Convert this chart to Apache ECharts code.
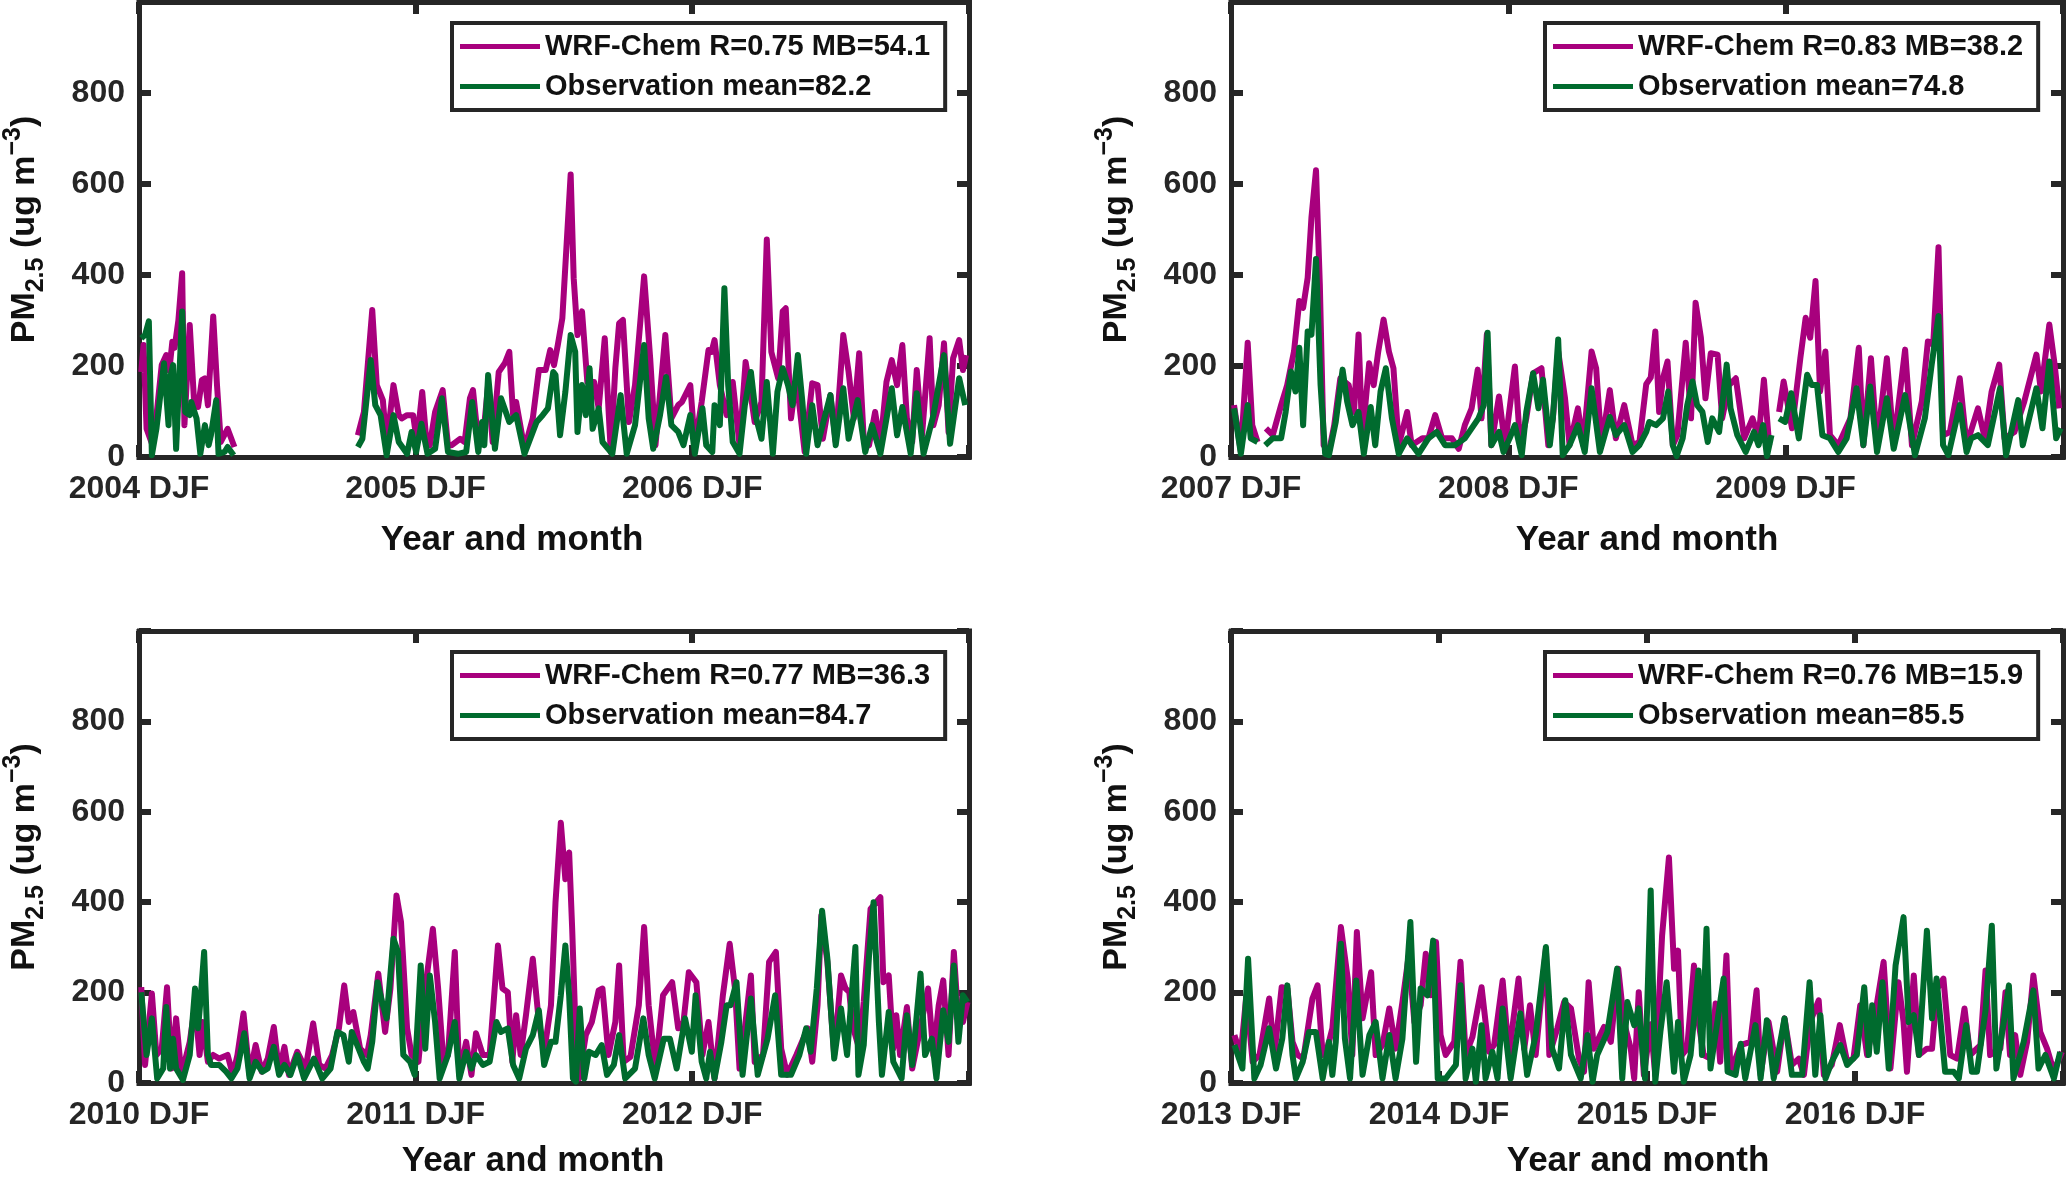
<!DOCTYPE html>
<html>
<head>
<meta charset="utf-8">
<title>PM2.5 WRF-Chem vs observation</title>
<script src="https://cdn.jsdelivr.net/npm/echarts@6/dist/echarts.min.js"></script>
<style>
  html, body { margin: 0; padding: 0; background: #fff; }
  #main { width: 2067px; height: 1180px; }
</style>
</head>
<body>
<div id="main"></div>
<script>
// values: [day since start of panel, PM2.5]
// null breaks the line where there is no data
var tlWrf = [[3,187],[6,246],[10,62],[17,30],[23,90],[30,202],[36,224],[40,190],[44,253],[47,240],[52,300],[57,404],[60,70],[67,290],[73,114],[78,110],[83,169],[87,173],[91,114],[98,309],[103,158],[108,33],[117,62],[126,22],[200,null],
  [289,48],[297,99],[308,323],[314,158],[322,125],[327,26],[336,158],[343,92],[347,85],[354,92],[362,92],[367,33],[374,143],[380,26],[384,26],[391,99],[401,147],[408,26],[413,26],[424,40],[430,33],[437,129],[441,147],[448,33],[455,55],[461,158],[467,33],[475,187],[483,206],[489,231],[494,92],[498,121],[509,18],[520,85],[528,191],[537,191],[543,235],[548,202],[553,246],
  [559,305],[570,621],[574,393],[579,268],[585,320],[592,165],[601,165],[607,107],[615,261],[623,11],[629,195],[634,294],[639,301],[647,77],[655,158],[667,397],[675,217],[682,26],[695,268],[703,85],[712,114],[717,121],[728,158],[734,26],[743,121],[752,235],[756,231],[760,257],[767,158],[776,92],[784,165],[793,26],[801,209],[806,158],[813,77],[822,121],[829,478],[835,231],[844,173],[850,320],[854,327],[861,85],[868,173],[879,11],[889,162],[896,158],[903,40],[913,136],[920,33],[930,268],[937,187],[944,85],[951,228],[957,40],[964,26],[972,99],[979,26],[987,165],[994,213],[1001,158],[1008,246],[1014,85],[1021,33],[1027,191],[1034,48],[1044,261],[1049,70],[1056,114],[1063,250],[1069,55],[1075,217],[1083,257],[1088,191],[1092,224]];
var tlObs = [[3,261],[8,268],[13,298],[17,4],[23,62],[33,206],[39,70],[41,173],[45,202],[49,18],[57,320],[61,99],[67,92],[69,121],[76,85],[81,7],[87,70],[92,26],[95,48],[102,125],[105,7],[113,11],[117,22],[125,4],[200,null],
  [289,22],[295,40],[306,213],[312,114],[319,92],[327,4],[336,92],[343,33],[354,7],[360,55],[366,11],[373,73],[381,7],[391,18],[400,129],[408,11],[421,7],[432,11],[440,121],[448,11],[453,77],[456,26],[461,180],[470,18],[478,129],[489,77],[498,92],[509,7],[525,77],[533,92],[540,107],[547,187],[550,180],[556,48],[563,143],[570,268],[576,231],[579,55],[585,158],[590,92],[595,195],[599,62],[607,107],[612,33],[625,7],[636,136],[644,7],[655,70],[667,246],[673,85],[679,18],[688,92],[696,176],[703,70],[712,55],[719,26],[728,92],[734,7],[744,107],[749,26],[757,11],[760,114],[767,70],[773,371],[778,158],[784,33],[793,7],[800,114],[808,187],[815,85],[822,40],[829,165],[837,7],[843,143],[850,195],[857,158],[863,114],[870,224],[876,121],[881,7],[889,114],[896,26],[905,85],[913,136],[920,26],[930,151],[937,40],[949,125],[959,11],[968,70],[979,7],[994,151],[1001,48],[1008,110],[1019,7],[1027,140],[1036,7],[1049,92],[1063,224],[1071,29],[1083,173],[1091,114]];

var trWrf = [[4,114],[13,11],[22,251],[28,70],[35,33],[40,null],[46,63],[55,48],[66,114],[74,158],[83,232],[90,343],[95,328],[101,394],[106,527],[112,630],[117,380],[122,26],[129,11],[136,70],[144,173],[155,158],[162,99],[168,269],[173,41],[182,206],[188,158],[194,232],[201,302],[208,232],[214,195],[221,26],[232,99],[238,26],[252,41],[260,41],[269,92],[278,41],[291,41],[300,18],[308,70],[317,107],[325,192],[330,85],[337,269],[343,26],[353,133],[361,26],[374,199],[381,26],[389,85],[398,184],[409,195],[418,26],[424,85],[431,232],[440,129],[446,26],[457,107],[464,26],[475,232],[481,195],[488,26],[499,147],[507,41],[518,114],[529,26],[538,33],[547,160],[553,175],[559,276],[564,99],[569,173],[575,210],[582,26],[588,48],[599,251],[606,85],[612,339],[619,262],[625,129],[632,228],[641,225],[647,85],[656,158],[665,173],[676,41],[687,85],[695,41],[702,170],[709,26],[715,null],
  [722,99],[728,166],[739,63],[750,217],[757,306],[763,262],[770,387],[776,144],[783,232],[789,48],[800,26],[816,85],[827,240],[833,26],[843,217],[851,26],[864,217],[873,26],[888,236],[897,26],[910,122],[918,254],[925,247],[932,461],[938,48],[947,55],[960,173],[969,26],[984,107],[993,41],[1002,144],[1012,203],[1019,41],[1032,55],[1045,122],[1061,225],[1067,144],[1078,291],[1085,203],[1091,107]];
var trObs = [[4,107],[13,7],[22,114],[26,41],[35,33],[40,null],[45,26],[55,41],[66,41],[72,99],[79,188],[85,144],[90,240],[95,70],[101,276],[106,269],[112,435],[118,158],[124,7],[129,4],[138,77],[147,192],[153,122],[160,70],[168,99],[175,7],[184,110],[190,26],[197,144],[204,195],[212,85],[221,7],[232,41],[247,7],[260,41],[271,55],[282,26],[295,26],[308,41],[326,85],[333,114],[338,273],[343,26],[353,55],[359,11],[367,41],[374,70],[383,4],[389,99],[398,184],[405,107],[411,170],[420,26],[424,85],[431,258],[437,4],[446,26],[457,70],[466,11],[475,151],[486,11],[499,88],[507,48],[518,70],[529,11],[538,26],[547,55],[551,77],[560,70],[569,85],[576,144],[582,26],[587,2],[595,41],[601,114],[608,166],[614,114],[621,99],[628,33],[634,85],[643,55],[653,203],[658,107],[667,48],[678,11],[689,55],[695,26],[701,70],[706,2],[712,48],[715,null],
  [722,85],[730,77],[738,140],[748,41],[759,181],[765,158],[772,158],[779,48],[789,41],[800,11],[811,41],[824,151],[833,26],[842,155],[851,11],[864,129],[873,18],[888,136],[901,4],[914,85],[923,203],[932,310],[938,26],[945,4],[960,114],[969,11],[975,41],[984,48],[997,26],[1013,151],[1021,4],[1037,125],[1043,26],[1061,151],[1069,63],[1078,210],[1087,41],[1093,63]];

var blWrf = [[3,212],[8,40],[17,198],[23,62],[30,76],[37,212],[43,32],[49,143],[56,18],[67,91],[74,172],[80,62],[84,135],[91,47],[98,62],[106,54],[117,62],[124,18],[130,62],[138,154],[146,18],[154,84],[162,25],[170,54],[178,124],[185,25],[192,80],[198,18],[209,69],[220,32],[230,132],[238,40],[246,32],[255,62],[264,121],[271,216],[277,135],[283,157],[292,76],[301,62],[306,106],[316,242],[325,113],[332,209],[340,415],[346,356],[354,121],[360,62],[369,47],[378,209],[388,341],[395,209],[402,47],[408,62],[417,290],[423,18],[432,91],[439,18],[445,110],[454,62],[463,62],[474,304],[480,209],[487,201],[493,47],[498,150],[504,62],[511,150],[520,275],[528,135],[535,69],[544,172],[550,400],[557,576],[563,451],[568,510],[572,341],[577,91],[581,10],[590,106],[598,135],[607,205],[612,209],[620,62],[629,135],[634,260],[640,47],[649,58],[660,172],[667,345],[673,172],[682,32],[692,194],[704,223],[712,121],[719,135],[726,245],[736,223],[744,62],[752,135],[760,10],[771,194],[780,308],[787,209],[793,32],[800,121],[808,238],[813,47],[824,62],[832,268],[841,290],[848,76],[856,18],[868,62],[883,121],[889,47],[896,172],[901,370],[909,268],[918,62],[927,238],[933,209],[938,201],[942,128],[951,76],[957,179],[966,385],[979,411],[983,223],[990,238],[996,76],[1000,150],[1005,62],[1014,168],[1021,32],[1029,98],[1042,209],[1049,62],[1056,172],[1062,227],[1069,62],[1076,290],[1082,135],[1088,135],[1094,179]];
var blObs = [[3,201],[10,62],[17,143],[24,10],[32,32],[36,168],[41,32],[45,98],[49,32],[58,7],[67,62],[74,209],[78,121],[81,179],[86,290],[91,62],[95,40],[106,40],[115,25],[122,10],[130,32],[139,110],[146,10],[154,47],[163,25],[170,32],[178,80],[185,18],[192,40],[200,18],[209,62],[218,10],[231,54],[242,10],[253,32],[262,113],[270,106],[277,47],[281,113],[290,76],[297,47],[302,32],[308,91],[315,223],[321,179],[327,143],[336,319],[342,290],[349,62],[358,47],[364,18],[372,260],[378,76],[384,238],[391,135],[397,10],[408,62],[417,135],[423,10],[432,69],[439,32],[445,62],[454,40],[463,47],[472,135],[478,113],[487,121],[494,40],[502,10],[511,76],[520,106],[528,161],[535,40],[544,91],[550,91],[557,194],[563,304],[568,194],[573,10],[577,3],[582,165],[588,10],[594,69],[603,62],[611,84],[618,18],[627,40],[634,106],[642,10],[655,32],[666,143],[673,62],[681,10],[693,98],[701,98],[710,32],[721,143],[730,69],[735,194],[743,47],[749,10],[754,69],[760,10],[769,91],[776,172],[781,172],[789,223],[797,18],[808,187],[817,18],[830,98],[840,194],[848,18],[861,18],[872,62],[881,121],[887,69],[895,209],[902,381],[909,275],[918,54],[927,165],[935,62],[946,301],[950,18],[957,84],[964,282],[970,400],[977,135],[981,18],[990,157],[996,47],[1007,10],[1014,150],[1021,40],[1032,242],[1038,62],[1047,98],[1053,10],[1062,161],[1069,91],[1076,260],[1082,91],[1088,194],[1094,179]];

var brWrf = [[6,106],[17,62],[27,194],[38,47],[50,62],[55,98],[67,187],[76,62],[89,212],[99,209],[108,91],[117,62],[127,54],[143,187],[152,216],[161,62],[169,76],[178,121],[193,345],[205,231],[213,62],[221,334],[231,143],[246,245],[254,62],[266,84],[278,165],[289,76],[301,179],[312,282],[322,135],[333,172],[342,286],[351,194],[360,312],[368,106],[377,62],[392,91],[403,268],[412,62],[424,102],[440,212],[453,69],[462,84],[477,227],[488,62],[505,231],[515,76],[525,172],[535,62],[553,297],[559,62],[573,121],[585,179],[597,165],[611,54],[620,25],[628,223],[637,76],[655,124],[667,91],[680,253],[690,135],[702,76],[708,10],[716,201],[725,18],[737,130],[745,18],[757,326],[769,499],[778,253],[785,293],[792,62],[801,76],[813,260],[821,135],[830,62],[842,54],[851,176],[859,47],[870,282],[877,25],[895,84],[912,91],[923,205],[930,18],[944,135],[959,25],[972,143],[985,40],[997,54],[1006,18],[1017,135],[1032,183],[1041,18],[1055,40],[1069,128],[1082,47],[1093,54],[1105,172],[1117,62],[1129,135],[1146,268],[1158,32],[1172,223],[1181,135],[1187,25],[1199,238],[1208,62],[1222,76],[1231,76],[1240,209],[1251,231],[1263,62],[1275,54],[1288,165],[1298,62],[1316,84],[1325,249],[1333,62],[1351,76],[1360,201],[1368,62],[1377,106],[1386,18],[1398,91],[1409,238],[1421,113],[1433,76],[1445,25],[1459,69]];
var brObs = [[6,84],[20,32],[30,275],[41,10],[52,40],[67,121],[79,32],[90,98],[99,216],[108,62],[114,10],[126,47],[137,113],[149,113],[161,10],[172,91],[178,18],[184,91],[193,308],[200,98],[209,10],[220,227],[231,18],[243,106],[254,135],[266,10],[278,106],[289,10],[301,98],[315,356],[325,47],[333,209],[345,194],[355,315],[363,10],[377,10],[395,40],[403,216],[412,10],[424,76],[430,3],[440,128],[447,10],[459,69],[468,10],[477,165],[491,10],[508,154],[520,18],[535,106],[553,301],[564,76],[576,32],[587,183],[597,62],[614,10],[626,106],[635,3],[643,62],[661,113],[678,253],[687,10],[696,179],[708,128],[716,165],[727,10],[737,426],[745,3],[754,113],[765,223],[778,25],[785,135],[795,3],[807,62],[821,249],[827,62],[835,341],[842,32],[854,135],[865,231],[872,25],[886,18],[895,87],[903,10],[921,128],[930,10],[941,139],[953,10],[972,143],[985,18],[1003,18],[1016,223],[1026,18],[1035,150],[1044,10],[1055,47],[1070,84],[1082,40],[1099,62],[1112,212],[1120,62],[1126,172],[1134,69],[1144,223],[1155,32],[1167,260],[1181,367],[1190,135],[1199,150],[1208,62],[1222,337],[1231,143],[1239,231],[1246,135],[1254,25],[1269,25],[1278,10],[1291,128],[1301,25],[1310,25],[1325,161],[1336,348],[1344,32],[1357,135],[1366,216],[1374,10],[1392,91],[1409,205],[1418,32],[1430,62],[1445,10],[1456,69]];

var tlNames = ['WRF-Chem R=0.75 MB=54.1', 'Observation mean=82.2'];
var trNames = ['WRF-Chem R=0.83 MB=38.2', 'Observation mean=74.8'];
var blNames = ['WRF-Chem R=0.77 MB=36.3', 'Observation mean=84.7'];
var brNames = ['WRF-Chem R=0.76 MB=15.9', 'Observation mean=85.5'];

var tlTicks = ['2004 DJF', '2005 DJF', '2006 DJF'];
var trTicks = ['2007 DJF', '2008 DJF', '2009 DJF'];
var blTicks = ['2010 DJF', '2011 DJF', '2012 DJF'];
var brTicks = ['2013 DJF', '2014 DJF', '2015 DJF', '2016 DJF'];
var yTicks = [0, 200, 400, 600, 800];

var ink = '#262626';
var wrfColor = '#A8007D';
var obsColor = '#006B2E';
var font = '"Liberation Sans", Arial, Helvetica, sans-serif';
var yearLen = 365.25;

var panels = [
  { wrf: tlWrf, obs: tlObs, names: tlNames, ticks: tlTicks, years: 3, left: 137, top: 2, legLeft: 452, legTop: 23, nameGap: 66, namePad: 84 },
  { wrf: trWrf, obs: trObs, names: trNames, ticks: trTicks, years: 3, left: 1231, top: 2, legLeft: 1545, legTop: 23, nameGap: 66, namePad: 0 },
  { wrf: blWrf, obs: blObs, names: blNames, ticks: blTicks, years: 3, left: 137, top: 631, legLeft: 452, legTop: 652, nameGap: 61, namePad: 42 },
  { wrf: brWrf, obs: brObs, names: brNames, ticks: brTicks, years: 4, left: 1231, top: 631, legLeft: 1545, legTop: 652, nameGap: 61, namePad: 18 }
];

var chart = echarts.init(document.getElementById('main'));

var option = {
  animation: false,
  backgroundColor: '#fff',
  grid: [],
  xAxis: [],
  yAxis: [],
  legend: [],
  series: []
};

function frameLine() {
  return { show: true, onZero: false, lineStyle: { color: ink, width: 5, cap: 'square' } };
}
function inTick() {
  return { show: true, inside: true, length: 12, lineStyle: { color: ink, width: 6 } };
}

panels.forEach(function (p, i) {
  var span = Math.round(p.years * yearLen);
  option.grid.push({ left: p.left, top: p.top, width: 832, height: 455 });

  // bottom axis with labels
  option.xAxis.push({
    type: 'value', gridIndex: i, position: 'bottom',
    min: 0, max: span, interval: yearLen,
    axisLine: frameLine(), axisTick: inTick(), splitLine: { show: false },
    axisLabel: {
      margin: 16, color: ink, fontSize: 32, fontWeight: 'bold', fontFamily: font,
      formatter: function (v) { return p.ticks[Math.round(v / yearLen)] || ''; }
    },
    name: 'Year and month', nameLocation: 'middle', nameGap: p.nameGap,
    nameTextStyle: {
      color: '#111', fontSize: 35, fontWeight: 'bold', fontFamily: font,
      lineHeight: 35, padding: [0, p.namePad, 0, 0]
    }
  });
  // top edge of the box
  option.xAxis.push({
    type: 'value', gridIndex: i, position: 'top',
    min: 0, max: span, interval: yearLen,
    axisLine: frameLine(), axisTick: inTick(), splitLine: { show: false },
    axisLabel: { show: false }
  });

  option.yAxis.push({
    type: 'value', gridIndex: i, position: 'left',
    min: 0, max: 1000, interval: 200,
    axisLine: frameLine(), axisTick: inTick(), splitLine: { show: false },
    axisLabel: {
      margin: 14, color: ink, fontSize: 32, fontWeight: 'bold', fontFamily: font,
      formatter: function (v) { return yTicks.indexOf(v) >= 0 ? String(v) : ''; }
    },
    name: '{m|PM}{s|2.5}{m| (ug m}{p|\u22123}{m|)}',
    nameLocation: 'middle', nameRotate: 90, nameGap: 90,
    nameTextStyle: {
      color: '#111', fontSize: 34, fontWeight: 'bold', fontFamily: font,
      rich: {
        m: { fontSize: 34, fontWeight: 'bold', fontFamily: font, color: '#111', lineHeight: 48 },
        s: { fontSize: 25, fontWeight: 'bold', fontFamily: font, color: '#111', lineHeight: 25, verticalAlign: 'bottom' },
        p: { fontSize: 25, fontWeight: 'bold', fontFamily: font, color: '#111', lineHeight: 25, verticalAlign: 'top' }
      }
    }
  });
  // right edge of the box
  option.yAxis.push({
    type: 'value', gridIndex: i, position: 'right',
    min: 0, max: 1000, interval: 200,
    axisLine: frameLine(), axisTick: inTick(), splitLine: { show: false },
    axisLabel: { show: false }
  });

  option.legend.push({
    orient: 'vertical', left: p.legLeft, top: p.legTop,
    data: p.names, selectedMode: false,
    icon: 'rect', itemWidth: 80, itemHeight: 5, itemGap: 7,
    padding: [7, 15, 7, 8],
    borderColor: ink, borderWidth: 4, backgroundColor: '#fff',
    textStyle: { color: '#111', fontSize: 29, fontWeight: 'bold', fontFamily: font, lineHeight: 33 }
  });

  option.series.push({
    type: 'line', name: p.names[0], data: p.wrf,
    xAxisIndex: 2 * i, yAxisIndex: 2 * i,
    symbol: 'none', connectNulls: false, z: 2,
    lineStyle: { color: wrfColor, width: 6, join: 'round' },
    itemStyle: { color: wrfColor }
  });
  option.series.push({
    type: 'line', name: p.names[1], data: p.obs,
    xAxisIndex: 2 * i, yAxisIndex: 2 * i,
    symbol: 'none', connectNulls: false, z: 3,
    lineStyle: { color: obsColor, width: 6, join: 'round' },
    itemStyle: { color: obsColor }
  });
});

chart.setOption(option);
</script>
</body>
</html>
